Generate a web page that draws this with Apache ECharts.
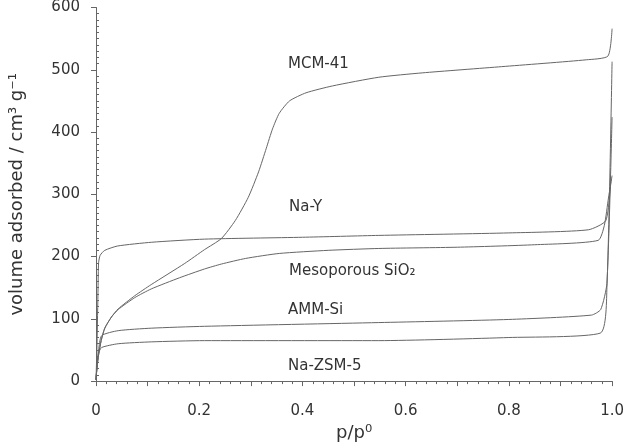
<!DOCTYPE html>
<html>
<head>
<meta charset="utf-8">
<script src="https://cdn.jsdelivr.net/npm/echarts@6/dist/echarts.min.js"></script>
<style>
  html, body { margin: 0; padding: 0; background: #fff; }
  #chart { width: 627px; height: 447px; }
</style>
</head>
<body>
<div id="chart"></div>
<script>
// isotherms (p/p0 , volume adsorbed)
var mcmX = [0, 0.002, 0.005, 0.01, 0.017, 0.03, 0.043, 0.075, 0.107, 0.172, 0.21, 0.243, 0.27, 0.295, 0.315, 0.33, 0.342, 0.355, 0.375, 0.407, 0.458, 0.548, 0.632, 0.786, 0.95, 0.992, 1.0]
var mcmY = [2, 22, 42, 65, 85, 103, 116, 137, 155, 189, 211, 229, 258, 295, 336, 374, 405, 430, 450, 463, 474, 488, 495, 505, 516, 522, 566]

var nayX = [0, 0.002, 0.004, 0.005, 0.008, 0.017, 0.042, 0.108, 0.21, 0.4, 0.548, 0.8, 0.954, 0.988, 0.998]
var nayY = [2, 60, 150, 190, 202, 210, 217, 223, 228, 231, 234, 238, 243, 258, 326]

var mesoX = [0, 0.002, 0.005, 0.01, 0.017, 0.03, 0.043, 0.075, 0.107, 0.162, 0.21, 0.243, 0.29, 0.355, 0.45, 0.548, 0.7, 0.85, 0.973, 0.985, 0.993, 1.0]
var mesoY = [2, 22, 42, 65, 85, 103, 115, 134, 148, 166, 180, 188, 197, 205, 210, 213, 215, 219, 226, 250, 294, 330]

var ammX = [0, 0.002, 0.005, 0.011, 0.043, 0.107, 0.21, 0.548, 0.8, 0.96, 0.978, 0.99, 1.0]
var ammY = [2, 25, 50, 73, 81, 85, 88, 94, 99, 106, 115, 157, 424]

var zsmX = [0, 0.002, 0.005, 0.011, 0.043, 0.107, 0.21, 0.548, 0.8, 0.977, 0.99, 1.0]
var zsmY = [2, 25, 45, 54, 60, 63, 65, 65, 70, 77, 150, 513]

var seriesNames = ['MCM-41', 'Na-Y', 'Mesoporous SiO₂', 'AMM-Si', 'Na-ZSM-5']

function pairs(xs, ys) {
  return xs.map(function (x, i) { return [x, ys[i]] })
}

var font = 'DejaVu Sans'
var lineColor = '#666'

var chart = echarts.init(document.getElementById('chart'))

function mkSeries(name, xs, ys) {
  return {
    name: name,
    type: 'line',
    data: pairs(xs, ys),
    showSymbol: false,
    smooth: 0.2,
    lineStyle: { color: lineColor, width: 1 },
    animation: false
  }
}

function label(text, left, top) {
  return {
    type: 'text',
    left: left,
    top: top,
    style: { text: text, font: '15px "' + font + '"', fill: '#333' }
  }
}

chart.setOption({
  backgroundColor: '#fff',
  grid: { left: 96, right: 11, top: 7, bottom: 61 },
  xAxis: {
    type: 'value',
    min: 0,
    max: 1,
    interval: 0.1,
    offset: 7,
    name: 'p/p⁰',
    nameLocation: 'middle',
    nameGap: 32,
    nameTextStyle: { fontFamily: font, fontSize: 18, color: '#333' },
    axisLine: { lineStyle: { color: lineColor } },
    axisTick: { length: 5, lineStyle: { color: lineColor } },
    minorTick: { show: true, splitNumber: 5, length: 3, lineStyle: { color: lineColor } },
    splitLine: { show: false },
    axisLabel: {
      margin: 16,
      fontFamily: font,
      fontSize: 15,
      color: '#333',
      formatter: function (v) {
        var k = Math.round(v * 10)
        if (k % 2 !== 0) return ''
        return k === 0 ? '0' : (k / 10).toFixed(1)
      }
    }
  },
  yAxis: {
    type: 'value',
    min: 0,
    max: 600,
    interval: 100,
    offset: 6,
    name: 'volume adsorbed / cm³ g⁻¹',
    nameLocation: 'middle',
    nameGap: 64,
    nameTextStyle: { fontFamily: font, fontSize: 18, color: '#333' },
    axisLine: { show: true, lineStyle: { color: lineColor } },
    axisTick: { show: true, length: 5, lineStyle: { color: lineColor } },
    minorTick: { show: true, splitNumber: 10, length: -3, lineStyle: { color: lineColor } },
    splitLine: { show: false },
    axisLabel: { margin: 10, fontFamily: font, fontSize: 15, color: '#333' }
  },
  graphic: [
    label(seriesNames[0], 288, 57),
    label(seriesNames[1], 289, 200),
    label(seriesNames[2], 289, 264),
    label(seriesNames[3], 288, 303),
    label(seriesNames[4], 288, 359)
  ],
  series: [
    mkSeries(seriesNames[0], mcmX, mcmY),
    mkSeries(seriesNames[1], nayX, nayY),
    mkSeries(seriesNames[2], mesoX, mesoY),
    mkSeries(seriesNames[3], ammX, ammY),
    mkSeries(seriesNames[4], zsmX, zsmY)
  ]
})
</script>
</body>
</html>
